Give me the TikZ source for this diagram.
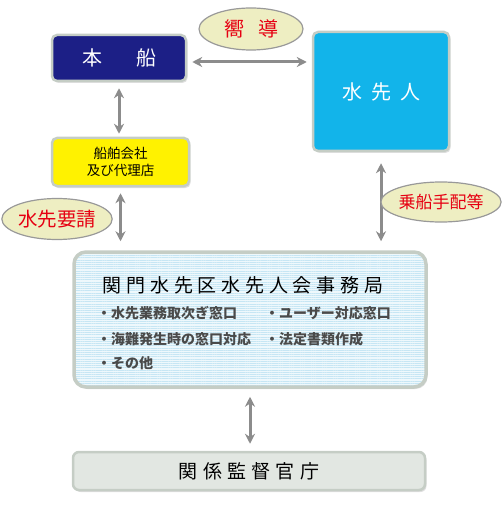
\documentclass[tikz,border=0pt]{standalone}
\usepackage{fontspec}
\setmainfont{Noto Sans CJK JP}
\usetikzlibrary{positioning,arrows.meta,shapes.geometric,shadows,patterns.meta}
\definecolor{navy}{HTML}{1C1F86}
\definecolor{pilotblue}{HTML}{12B4EA}
\definecolor{agentyellow}{HTML}{FFF200}
\definecolor{tagfill}{HTML}{EEEEC2}
\definecolor{tagred}{HTML}{E60012}
\definecolor{rimgray}{HTML}{C5CDC5}
\definecolor{arrowgray}{HTML}{8C8C8C}
\definecolor{officebg}{HTML}{EEF8FC}
\definecolor{officeline}{HTML}{C6E6F4}
\definecolor{govfill}{HTML}{E2E7E2}
\definecolor{itemgray}{HTML}{4A4A4A}

\begin{document}
\begin{tikzpicture}[x=1pt, y=-1pt,
  box/.style={draw=rimgray, line width=2.5pt, rounded corners=5pt,
    drop shadow={shadow xshift=1.5pt, shadow yshift=-2pt, opacity=0.25, fill=gray}},
  tag/.style={ellipse, draw=gray!80, line width=1.2pt, fill=tagfill, text=tagred,
    inner sep=0pt},
  conn/.style={{Stealth[length=10pt,width=10pt]}-{Stealth[length=10pt,width=10pt]},
    line width=3pt, draw=arrowgray},
  item/.style={anchor=west, text=itemgray, font=\fontsize{14}{16}\selectfont\bfseries,
    inner sep=0pt}]
  \useasboundingbox (0,0) rectangle (501,513);
  % boxes
  \node[box, fill=navy, text=white, minimum width=134, minimum height=46,
    font=\fontsize{20}{22}\selectfont] (hon) at (119,58) {本\hspace{34pt}船};
  \node[box, fill=pilotblue, text=white, minimum width=136, minimum height=119,
    font=\fontsize{20}{22}\selectfont\addfontfeature{LetterSpace=45}] (pilot) at (381,91.5) {水先人};
  \node[box, fill=agentyellow, minimum width=137, minimum height=48, align=center,
    font=\fontsize{13.5}{17}\selectfont] (agent) at (120.5,162) {船舶会社\\及び代理店};
  \node[box, rounded corners=12pt, line width=3.5pt, minimum width=352, minimum height=135,
    preaction={fill=officebg},
    preaction={pattern={Lines[angle=0,distance=2.2pt,line width=0.9pt]}, pattern color=officeline}]
    (office) at (250,319.5) {};
  \node[box, fill=govfill, rounded corners=6pt, minimum width=352, minimum height=38,
    font=\fontsize{19}{21}\selectfont\addfontfeature{LetterSpace=28}] (gov) at (249,471) {関係監督官庁};
  % office text
  \node[font=\fontsize{19}{21}\selectfont\addfontfeature{LetterSpace=25}] (officetitle) at (243,285) {関門水先区水先人会事務局};
  \node[item] (item1) at (97,313) {・水先業務取次ぎ窓口};
  \node[item] (item2) at (265,313) {・ユーザー対応窓口};
  \node[item] (item3) at (97,339) {・海難発生時の窓口対応};
  \node[item] (item4) at (265,339) {・法定書類作成};
  \node[item] (item5) at (97,363) {・その他};
  % arrows
  \draw[conn, shorten <=5pt, shorten >=5pt] ([yshift=-4pt]hon.east) -- ([yshift=-4pt]hon.east -| pilot.west);
  \draw[conn, shorten <=6pt, shorten >=3pt] (hon.south) -- (hon.south |- agent.north);
  \draw[conn, shorten <=6pt, shorten >=9pt] (agent.south) -- (agent.south |- office.north);
  \draw[conn, shorten <=11pt, shorten >=9pt] (pilot.south) -- (pilot.south |- office.north);
  \draw[conn, shorten <=8pt, shorten >=7pt] (office.south) -- (office.south |- gov.north);
  % labels
  \node[tag, minimum width=104, minimum height=42, font=\fontsize{20}{22}\selectfont] (kyodo) at (251,29) {嚮\hspace{14pt}導};
  \node[tag, minimum width=101, minimum height=41, font=\fontsize{19.5}{21}\selectfont] (yosei) at (57,219) {水先要請};
  \node[tag, minimum width=102, minimum height=40, font=\fontsize{17}{19}\selectfont] (tehai) at (441,202) {乗船手配等};
\end{tikzpicture}
\end{document}
